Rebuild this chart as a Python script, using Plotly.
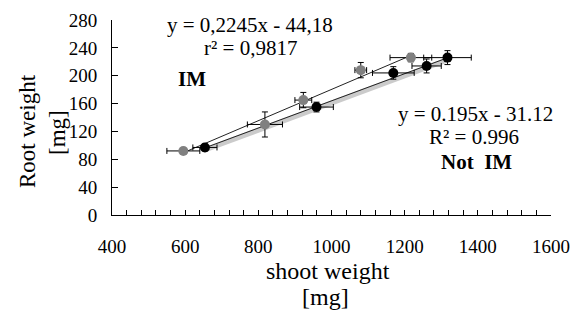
import plotly.graph_objects as go

# IM series (grey)
im_x = [595, 818, 923, 1080, 1217]
im_y = [92, 130, 165, 208, 226]
im_xerr = [45, 48, 23, 16, 57]
im_yerr = [4, 18, 11, 11, 6]

# Not IM series (black)
nim_x = [654, 959, 1169, 1260, 1317]
nim_y = [97, 155, 204, 214, 226]
nim_xerr = [33, 46, 57, 40, 65]
nim_yerr = [5, 7, 9, 10, 10]

# trendline coefficients (from the chart's equations)
im_slope, im_icpt = 0.2245, -44.18
nim_slope, nim_icpt = 0.195, -31.12

FONT = "Liberation Serif, Times New Roman, serif"

fig = go.Figure()

# trendlines
ix = [min(im_x), max(im_x)]
nx = [min(nim_x), max(nim_x)]
fig.add_trace(go.Scatter(x=nx, y=[nim_slope * v + nim_icpt - 3 for v in nx], mode="lines",
                         line=dict(color="rgba(140,140,140,0.45)", width=5), hoverinfo="skip", showlegend=False))
fig.add_trace(go.Scatter(x=ix, y=[im_slope * v + im_icpt for v in ix], mode="lines",
                         line=dict(color="#222", width=1), showlegend=False))
fig.add_trace(go.Scatter(x=nx, y=[nim_slope * v + nim_icpt for v in nx], mode="lines",
                         line=dict(color="#222", width=1), showlegend=False))

errstyle = dict(color="black", thickness=1, width=3)
fig.add_trace(go.Scatter(x=im_x, y=im_y, mode="markers", name="IM",
                         marker=dict(color="#808080", size=10),
                         error_x=dict(type="data", array=im_xerr, **errstyle),
                         error_y=dict(type="data", array=im_yerr, **errstyle),
                         showlegend=False))
fig.add_trace(go.Scatter(x=nim_x, y=nim_y, mode="markers", name="Not IM",
                         marker=dict(color="black", size=10),
                         error_x=dict(type="data", array=nim_xerr, **errstyle),
                         error_y=dict(type="data", array=nim_yerr, **errstyle),
                         showlegend=False))

annotations = [
    dict(x=250, y=25, text="y = 0,2245x - 44,18"),
    dict(x=250, y=48, text="r² = 0,9817"),
    dict(x=192, y=79, text="<b>IM</b>"),
    dict(x=475, y=114, text="y = 0.195x - 31.12"),
    dict(x=474, y=137, text="R² = 0.996"),
    dict(x=476, y=162, text="<b>Not  IM</b>"),
    dict(x=328, y=271, text="shoot weight", size=24),
    dict(x=325, y=297, text="[mg]", size=24),
    dict(x=27, y=131, text="Root weight", size=23, rot=-90),
    dict(x=57, y=132, text="[mg]", size=23, rot=-90),
]

pl, pr, pt, pb = 112, 23, 20, 101
W, H = 574, 316
pw, ph = W - pl - pr, H - pt - pb
anns = []
for a in annotations:
    anns.append(dict(x=(a["x"] - pl) / pw, y=1 - (a["y"] - pt) / ph, xref="paper", yref="paper",
                     text=a["text"], showarrow=False,
                     font=dict(family=FONT, size=a.get("size", 21), color="black"),
                     textangle=a.get("rot", 0), xanchor="center", yanchor="middle"))

fig.update_layout(
    width=W, height=H,
    margin=dict(l=pl, r=pr, t=pt, b=pb, autoexpand=False),
    paper_bgcolor="white", plot_bgcolor="white",
    font=dict(family=FONT, size=19, color="black"),
    annotations=anns,
    xaxis=dict(range=[400, 1600], dtick=200, tick0=400, ticks="inside", ticklen=5,
               tickcolor="black", showline=True, linecolor="black", linewidth=1,
               showgrid=False, zeroline=False, ticklabelstandoff=14, automargin=False,
               minor=dict(dtick=40, ticks="inside", ticklen=5, tickcolor="black")),
    yaxis=dict(range=[0, 280], dtick=40, ticks="inside", ticklen=6, tickcolor="black",
               showline=True, linecolor="black", linewidth=1, showgrid=False,
               zeroline=False, ticklabelstandoff=10, automargin=False),
)

fig.write_html("out.html", config={"displayModeBar": False},
               post_script="document.body.style.margin='0';document.body.style.overflow='hidden';")
